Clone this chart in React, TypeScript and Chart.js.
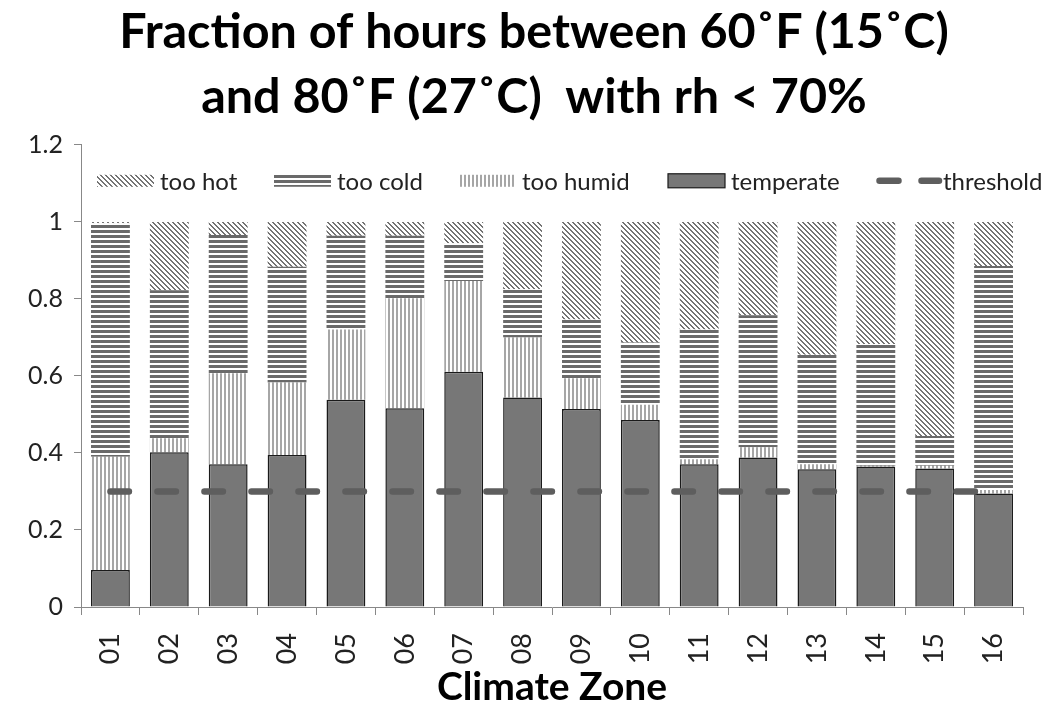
import React, { useEffect, useRef } from "react";
import { Chart, registerables } from "chart.js";

Chart.register(...registerables);

const zones = ["01", "02", "03", "04", "05", "06", "07", "08", "09", "10", "11", "12", "13", "14", "15", "16"];
const temperate = [0.096, 0.402, 0.371, 0.395, 0.538, 0.516, 0.611, 0.544, 0.514, 0.486, 0.371, 0.388, 0.358, 0.365, 0.36, 0.295];
const tooHumid = [0.294, 0.036, 0.236, 0.188, 0.183, 0.286, 0.236, 0.156, 0.08, 0.039, 0.013, 0.027, 0.013, 0.002, 0.007, 0.009];
const tooCold = [0.607, 0.385, 0.359, 0.301, 0.243, 0.162, 0.098, 0.125, 0.153, 0.162, 0.337, 0.343, 0.284, 0.316, 0.077, 0.582];
const tooHot = [0.003, 0.177, 0.034, 0.116, 0.036, 0.036, 0.055, 0.175, 0.253, 0.313, 0.279, 0.242, 0.345, 0.317, 0.556, 0.114];
const threshold = [0.3, 0.3, 0.3, 0.3, 0.3, 0.3, 0.3, 0.3, 0.3, 0.3, 0.3, 0.3, 0.3, 0.3, 0.3, 0.3];
const titleLines = ["Fraction of hours between 60˚F (15˚C)", "and 80˚F (27˚C)  with rh < 70%"];
const xTitle = "Climate Zone";
const legendOrder = ["too hot", "too cold", "too humid", "temperate", "threshold"];

function makePattern(kind: string): CanvasPattern | string {
  const c = document.createElement("canvas");
  const size = kind === "hot" ? 5 : kind === "cold" ? 5 : 4;
  c.width = size;
  c.height = size;
  const g = c.getContext("2d");
  if (!g) return "#999";
  g.fillStyle = "#ffffff";
  g.fillRect(0, 0, size, size);
  if (kind === "hot") {
    g.fillStyle = "#747474";
    for (let x = 0; x < size; x++) {
      for (let y = 0; y < size; y++) {
        const d = (((x - y) % size) + size) % size;
        if (d < 2) g.fillRect(x, y, 1, 1);
      }
    }
  } else if (kind === "cold") {
    g.fillStyle = "#6a6a6a";
    g.fillRect(0, 0, size, 3);
  } else {
    g.fillStyle = "#a6a6a6";
    g.fillRect(0, 0, 2, size);
  }
  const p = g.createPattern(c, "repeat");
  return p || "#999";
}

export default function App() {
  const ref = useRef<HTMLCanvasElement | null>(null);
  useEffect(() => {
    if (!ref.current) return;
    const hotP = makePattern("hot");
    const coldP = makePattern("cold");
    const humidP = makePattern("humid");
    const FONT = "Lato, 'Open Sans', sans-serif";
    const legendX = [97, 274, 459, 668, 876];

    const legendPlugin = {
      id: "customLegend",
      afterLayout(chart: any) {
        const tb = chart.titleBlock;
        if (tb) {
          tb.left = 45;
          tb.right = 1023;
          tb.width = 978;
        }
      },
      afterDraw(chart: any) {
        const ctx = chart.ctx;
        const yScale = chart.scales.y;
        const cy = yScale.getPixelForValue(1.107);
        ctx.save();
        ctx.font = `24px ${FONT}`;
        ctx.textBaseline = "middle";
        ctx.fillStyle = "#222";
        const styles = [hotP, coldP, humidP, "temp", "line"];
        legendOrder.forEach((label, i) => {
          const st = styles[i];
          let x = legendX[i];
          if (st === "line") {
            ctx.save();
            ctx.strokeStyle = "#5e5e5e";
            ctx.lineWidth = 6.5;
            ctx.lineCap = "round";
            ctx.setLineDash([19, 23]);
            ctx.beginPath();
            ctx.moveTo(x + 3.5, cy);
            ctx.lineTo(x + 63, cy);
            ctx.stroke();
            ctx.restore();
            x += 67;
          } else if (st === "temp") {
            ctx.fillStyle = "#777777";
            ctx.fillRect(x, cy - 7, 57, 14);
            ctx.strokeStyle = "#1a1a1a";
            ctx.lineWidth = 1.2;
            ctx.strokeRect(x, cy - 7, 57, 14);
            x += 63;
          } else {
            ctx.fillStyle = st;
            ctx.fillRect(x, cy - 6, 57, 12);
            x += 63;
          }
          ctx.fillStyle = "#222";
          ctx.fillText(label, x, cy + 1);
        });
        ctx.restore();
      },
    };

    const chart = new Chart(ref.current, {
      type: "bar",
      data: {
        labels: zones,
        datasets: [
          {
            type: "line",
            label: "threshold",
            data: threshold,
            borderColor: "#5e5e5e",
            borderWidth: 6.5,
            borderDash: [18.5, 28.5],
            borderCapStyle: "round",
            pointRadius: 0,
            fill: false,
            stack: "thr",
            order: 0,
          } as any,
          {
            label: "temperate",
            data: temperate,
            backgroundColor: "#777777",
            borderColor: "#1a1a1a",
            borderWidth: 1.5,
            stack: "s",
            order: 1,
          },
          {
            label: "too humid",
            data: tooHumid,
            backgroundColor: humidP as any,
            borderWidth: 0,
            stack: "s",
            order: 1,
          },
          {
            label: "too cold",
            data: tooCold,
            backgroundColor: coldP as any,
            borderWidth: 0,
            stack: "s",
            order: 1,
          },
          {
            label: "too hot",
            data: tooHot,
            backgroundColor: hotP as any,
            borderWidth: 0,
            stack: "s",
            order: 1,
          },
        ],
      },
      options: {
        responsive: false,
        animation: false,
        devicePixelRatio: 1,
        layout: { padding: { left: 0, right: 32, top: 0, bottom: 0 } },
        datasets: { bar: { barPercentage: 0.66, categoryPercentage: 1 } },
        plugins: {
          legend: { display: false },
          tooltip: { enabled: false },
          title: {
            display: true,
            text: titleLines,
            color: "#000",
            font: { family: FONT, size: 48.5, weight: "bold", lineHeight: 1.34 },
            padding: { top: 0, bottom: 15 },
          },
        },
        scales: {
          x: {
            stacked: true,
            grid: { drawOnChartArea: false, drawTicks: true, tickLength: 8, color: "#888", offset: true },
            border: { color: "#888", width: 1 },
            ticks: {
              minRotation: 90,
              maxRotation: 90,
              padding: 18,
              color: "#222",
              font: { family: FONT, size: 27 },
            },
            title: {
              display: true,
              text: xTitle,
              color: "#000",
              font: { family: FONT, size: 39, weight: "bold", lineHeight: 1.1 },
              padding: { top: 0, bottom: 2 },
            },
            afterFit(scale: any) {
              scale.height = 104;
            },
          },
          y: {
            stacked: true,
            min: 0,
            max: 1.2,
            grid: { drawOnChartArea: false, drawTicks: true, tickLength: 7, color: "#888" },
            border: { color: "#888", width: 1 },
            ticks: {
              stepSize: 0.2,
              padding: 11,
              color: "#222",
              font: { family: FONT, size: 25 },
              callback: (v: any) => String(Math.round(Number(v) * 10) / 10),
            },
            afterFit(scale: any) {
              scale.width = 81;
            },
          },
        },
      },
      plugins: [legendPlugin],
    });
    return () => chart.destroy();
  }, []);

  return (
    <div style={{ position: "fixed", left: 0, top: 0, width: 1055, height: 711, background: "#fff" }}>
      <canvas ref={ref} width={1055} height={711} />
    </div>
  );
}
